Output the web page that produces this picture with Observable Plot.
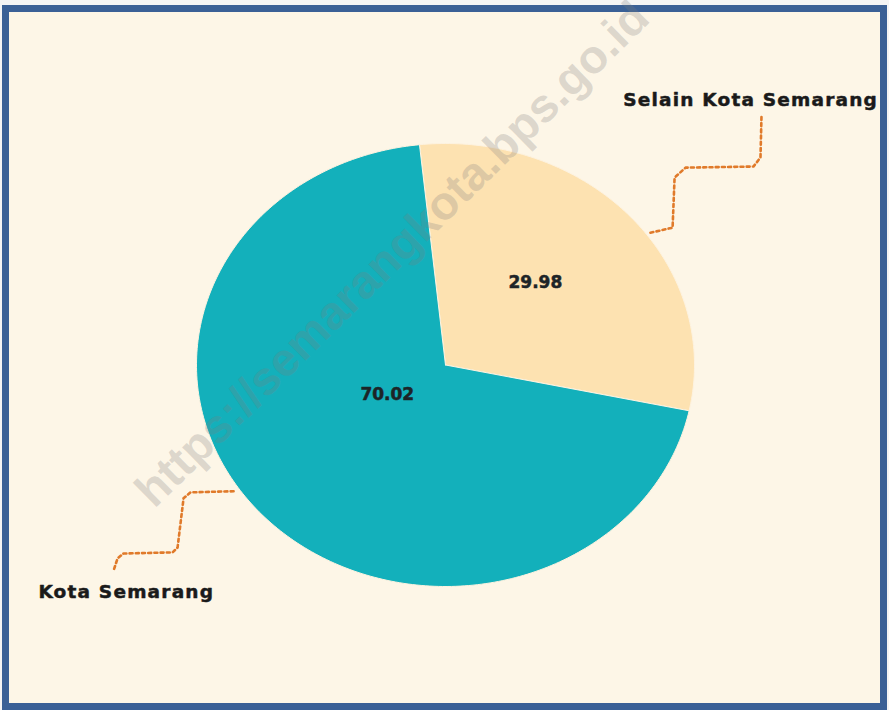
<!DOCTYPE html>
<html>
<head>
<meta charset="utf-8">
<script src="https://cdn.jsdelivr.net/npm/d3@7"></script>
<script src="https://cdn.jsdelivr.net/npm/@observablehq/plot@0.6"></script>
<style>
  html, body { margin: 0; padding: 0; background: #f4f4f4; }
  #wrap { position: relative; width: 889px; height: 710px; overflow: hidden; }
  #frame { position: absolute; left: 2px; top: 5px; width: 871px; height: 691px;
           border: 7px solid #3a6096; background: #fdf6e7; }
  #chart { position: absolute; left: 0; top: 0; }
  #chart svg { display: block; }
</style>
</head>
<body>
<div id="wrap"><div id="frame"></div><div id="chart"></div></div>
<script>
// ---- data ----
const categories = ["Selain Kota Semarang", "Kota Semarang"];
const values = [29.98, 70.02];
const valueLabels = ["29.98", "70.02"];
const watermark = "https://semarangkota.bps.go.id";
// leader waypoints, in pie-radius units (annotation paths)
const leaderSelain = [[0.823,0.597],[0.912,0.620],[0.920,0.846],[0.964,0.891],[1.237,0.896],[1.265,0.937],[1.269,1.122]];
const leaderKota = [[-0.851,-0.570],[-1.024,-0.575],[-1.052,-0.602],[-1.076,-0.824],[-1.096,-0.846],[-1.293,-0.851],[-1.317,-0.873],[-1.333,-0.928]];

// ---- build pie geometry from values ----
const deg = Math.PI / 180;
const arcs = d3.pie().sort(null).startAngle(-6 * deg).endAngle(354 * deg)(values);
const slicePts = [];
arcs.forEach((a, i) => {
  const cat = categories[i];
  slicePts.push({cat, x: 0, y: 0});
  const n = Math.max(8, Math.ceil((a.endAngle - a.startAngle) / (1 * deg)));
  for (let k = 0; k <= n; k++) {
    const t = a.startAngle + (a.endAngle - a.startAngle) * k / n;
    slicePts.push({cat, x: Math.sin(t), y: Math.cos(t)});
  }
  slicePts.push({cat, x: 0, y: 0});
});
const labelFactor = [0.52, 0.27];
const labelTurn = [-4, 12];
const valueLbls = arcs.map((a, i) => {
  const m = (a.startAngle + a.endAngle) / 2 + labelTurn[i] * deg;
  return {text: valueLabels[i], x: Math.sin(m) * labelFactor[i], y: Math.cos(m) * labelFactor[i]};
});
const leaders = [
  ...leaderSelain.map(([x, y]) => ({id: "s", x, y})),
  ...leaderKota.map(([x, y]) => ({id: "k", x, y}))
];
const labelStyle = {fontSize: 18.5, fontWeight: "bold", fontFamily: "DejaVu Sans, sans-serif",
  fill: "#1a1a1a", stroke: "#1a1a1a", strokeWidth: 0.5};

const plot = Plot.plot({
  width: 889, height: 710, margin: 0,
  style: {background: "transparent"},
  x: {domain: [-1, 1], range: [196, 694], axis: null},
  y: {domain: [-1, 1], range: [586, 143], axis: null},
  color: {domain: categories, range: ["#fde2b1", "#13b0bb"]},
  marks: [
    Plot.line(slicePts, {x: "x", y: "y", z: "cat", fill: "cat", stroke: "#fdf3e0", strokeWidth: 1, curve: "linear"}),
    Plot.text([watermark], {x: [-0.213], y: [0.50], text: d => d, rotate: -44.5, fontSize: 47,
      fontWeight: "bold", fontFamily: "Liberation Sans, Arial, sans-serif", fill: "#7d7d7d", fillOpacity: 0.26}),
    Plot.text(valueLbls, {x: "x", y: "y", text: "text", fontSize: 17, fontWeight: "bold",
      fontFamily: "DejaVu Sans, sans-serif", fill: "#1d2427", stroke: "#1d2427", strokeWidth: 0.5}),
    Plot.line(leaders, {x: "x", y: "y", z: "id", stroke: "#e07a2a", strokeWidth: 2.6,
      strokeDasharray: "3,3.2", curve: "linear"}),
    Plot.text([categories[0]], {x: [1.737], y: [1.195], text: d => d, textAnchor: "end", ...labelStyle}),
    Plot.text([categories[1]], {x: [-1.635], y: [-1.023], text: d => d, textAnchor: "start", ...labelStyle})
  ]
});
document.getElementById("chart").appendChild(plot);
d3.select(plot).selectAll("text").filter(function() {
  return categories.includes(this.textContent);
}).style("letter-spacing", "1.2px");
</script>
</body>
</html>
